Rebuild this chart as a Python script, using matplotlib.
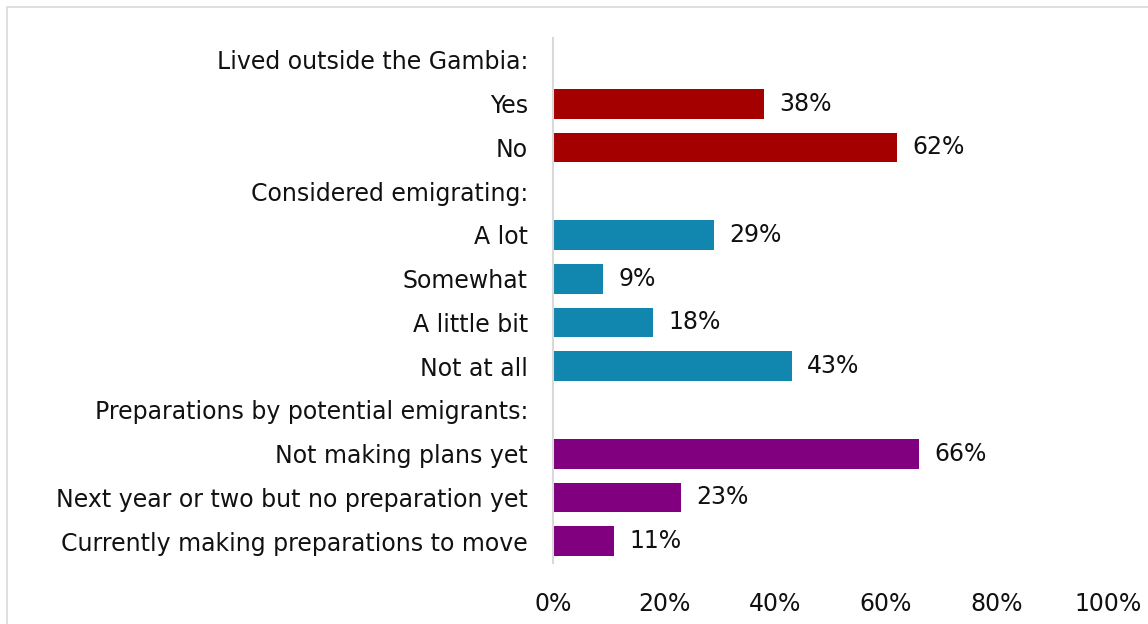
import matplotlib.pyplot as plt
from matplotlib.patches import Rectangle

# survey items, top to bottom (None = section header, no bar)
labels = [
    "Lived outside the Gambia:", "Yes", "No",
    "Considered emigrating:", "A lot", "Somewhat", "A little bit", "Not at all",
    "Preparations by potential emigrants:", "Not making plans yet",
    "Next year or two but no preparation yet", "Currently making preparations to move",
]
values = [None, 38, 62, None, 29, 9, 18, 43, None, 66, 23, 11]
groups = [0, 0, 0, 1, 1, 1, 1, 1, 2, 2, 2, 2]
group_colors = ["#A50000", "#1186AF", "#800080"]
xticks = [0, 20, 40, 60, 80, 100]

plt.rcParams['font.family'] = ['DejaVu Sans']
FS = 17

fig = plt.figure(figsize=(11.48, 6.24), dpi=100)
ax = fig.add_axes([553/1148, 1 - 563/624, 555/1148, 525/624])

ypos = list(range(len(labels)))
for y, v, g in zip(ypos, values, groups):
    if v is None:
        continue
    ax.barh(y, v, height=0.68, color=group_colors[g])
    ax.annotate(f"{v}%", (v, y), xytext=(11, 0), textcoords="offset points",
                ha="left", va="center", fontsize=FS, color="#111111")

ax.set_ylim(len(labels) - 0.5, -0.5)
ax.set_xlim(0, 100)
ax.set_yticks(ypos)
ax.set_yticklabels(labels, fontsize=FS, color="#111111")
ax.set_xticks(xticks)
ax.set_xticklabels([f"{t}%" for t in xticks], fontsize=FS, color="#111111")
ax.tick_params(axis="both", length=0)
ax.tick_params(axis="y", pad=18)
ax.tick_params(axis="x", pad=21)

for side in ["top", "right", "bottom"]:
    ax.spines[side].set_visible(False)
ax.spines["left"].set_color("#D9D9D9")
ax.spines["left"].set_linewidth(1.5)

# chart area outline, running off the right and bottom edges
fig.patches.append(Rectangle((7/1148, -0.1), 1.2, 1 - 7/624 + 0.1,
                             transform=fig.transFigure, fill=False,
                             edgecolor="#D9D9D9", linewidth=1.2))

fig.savefig("out.png", dpi=100)
